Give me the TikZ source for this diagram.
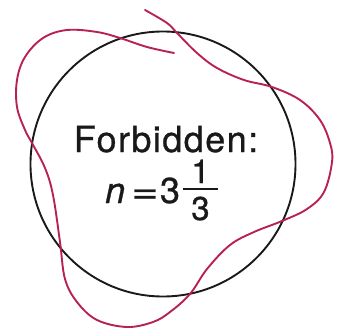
\documentclass[tikz,border=0pt]{standalone}
\usepackage{graphicx}
\usepackage{fontspec}
\setmainfont[FakeBold=0.8]{TeX Gyre Heros}
\newfontfamily\trackedfont[LetterSpace=4,FakeBold=0.8]{TeX Gyre Heros}
\definecolor{wavered}{RGB}{184,34,82}
\definecolor{ringgray}{RGB}{25,25,25}
\tikzset{
  ring/.style={draw=ringgray, line width=1.9pt},
  wave/.style={draw=wavered, line width=1.9pt, line cap=round},
  bigtext/.style={font=\fontsize{36}{40}\selectfont, inner sep=0, text=ringgray},
  fractext/.style={font=\fontsize{33}{36}\selectfont, inner sep=0, text=ringgray},
}
\begin{document}
\begin{tikzpicture}[x=1pt,y=-1pt]
\useasboundingbox (0,0) rectangle (337,332);
\node[ring, circle, minimum size=265pt, inner sep=0] (ring) at (163,164) {};
\draw[wave] plot[smooth, tension=0.6] coordinates {
(174,53) (147,47) (120,38) (97,32) (67,30) (43,38) (25,57) (17,80) (17,107)
(25,130) (32,143) (45,168) (53,195) (60,242) (65,279) (77,302) (97,320)
(127,327) (153,322) (170,312) (190,294) (207,269) (230,245) (254,232)
(282,221) (307,209) (324,192) (332,162) (330,143) (320,120) (300,100)
(272,87) (244,80) (217,68) (197,53) (177,33) (167,23) (145,10)};
\node[bigtext, anchor=base] (title) at (166,152) {\trackedfont Forbidden:};
\node[bigtext, anchor=base west] (n) at (105,203) {\itshape n};
\node[bigtext, anchor=base] (eq) at (145,203) {\scalebox{1.3}[1]{=}};
\node[bigtext, anchor=base] (three) at (170,203) {3};
\node[fractext, anchor=base] (num) at (200.5,183) {1};
\node[fractext, anchor=base] (den) at (200.5,220) {3};
\coordinate (barl) at (183,189);
\coordinate (barr) at (218,189);
\draw[ringgray, line width=1.9pt] (barl) -- (barr);
\end{tikzpicture}
\end{document}
